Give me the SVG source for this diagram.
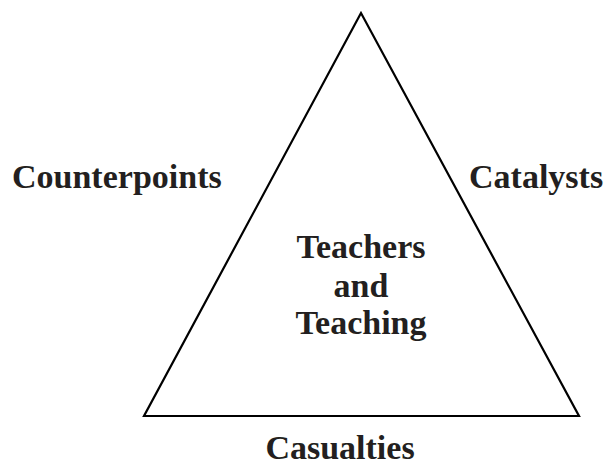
<svg xmlns="http://www.w3.org/2000/svg" width="606" height="466" viewBox="0 0 606 466">
<style>
text{font-family:"Liberation Serif","Times New Roman",serif;font-weight:bold;font-size:34px;fill:#231f20}
.c{text-anchor:middle}
</style>
<rect width="606" height="466" fill="#fff"/>
<g id="connectors">
<polygon id="triangle" points="361,13 144,416 579,416" fill="none" stroke="#000" stroke-width="2.2" stroke-linejoin="miter"/>
</g>
<g id="counterpoints"><text x="12" y="188">Counterpoints</text></g>
<g id="catalysts"><text x="469" y="188">Catalysts</text></g>
<g id="center"><text class="c" x="361" y="258">Teachers</text><text class="c" x="361" y="297">and</text><text class="c" x="361" y="334">Teaching</text></g>
<g id="casualties"><text class="c" x="340" y="459">Casualties</text></g>
</svg>
